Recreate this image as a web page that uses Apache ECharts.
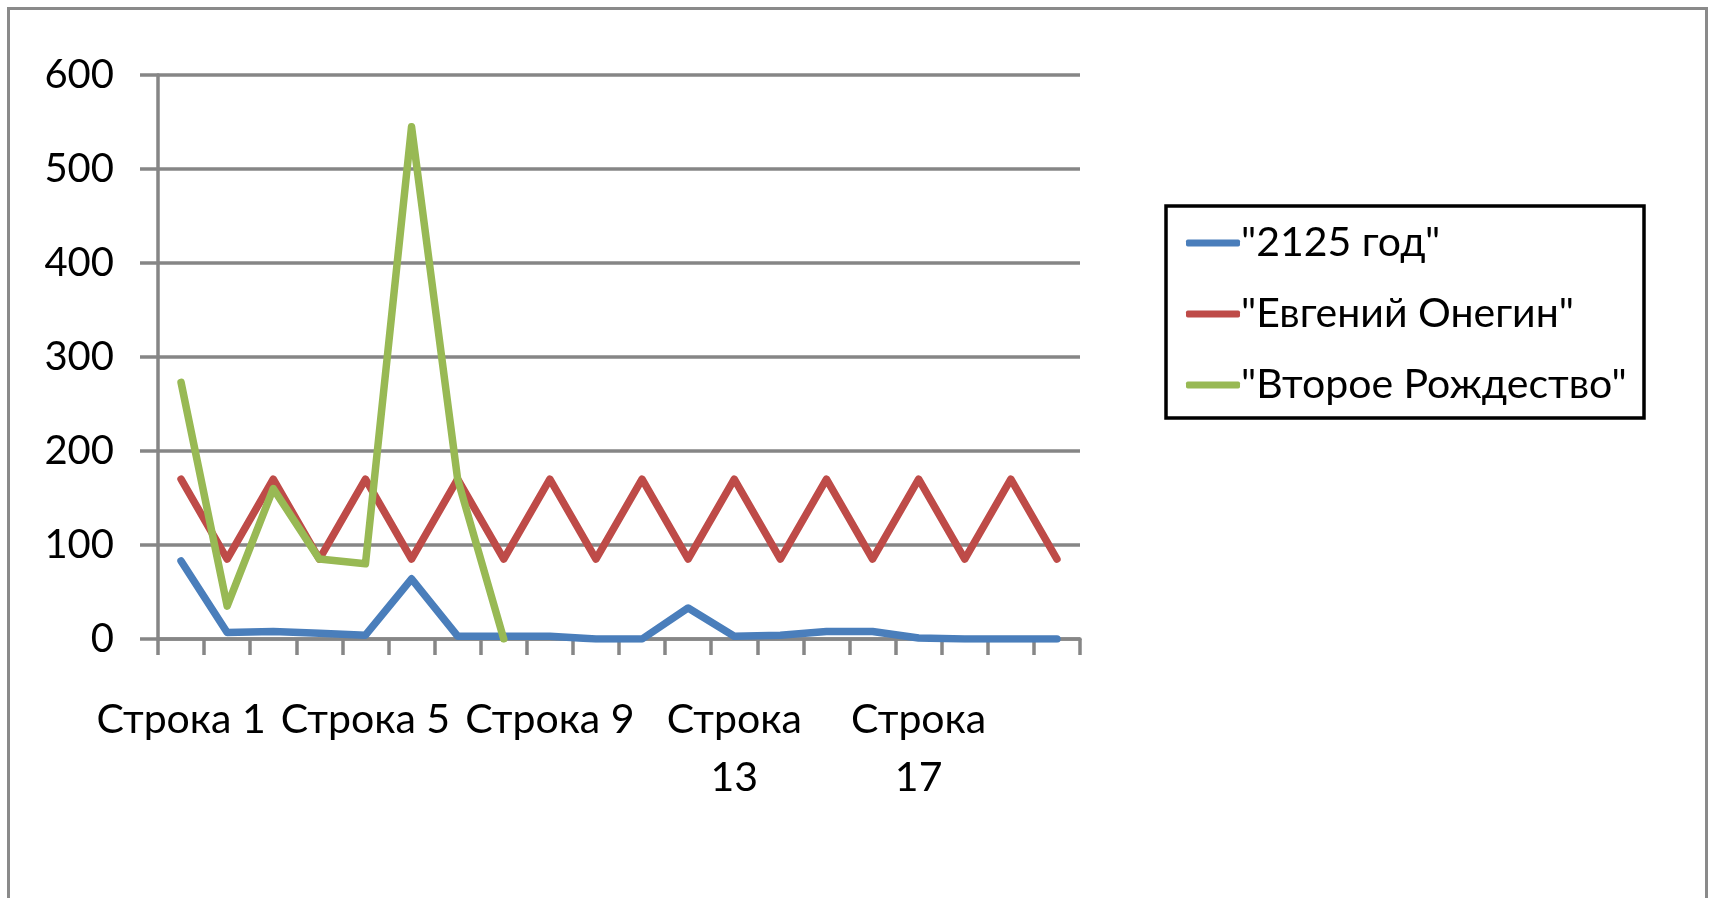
<!DOCTYPE html>
<html>
<head>
<meta charset="utf-8">
<script src="https://cdn.jsdelivr.net/npm/echarts@6/dist/echarts.min.js"></script>
<style>
html,body{margin:0;padding:0;background:#fff;}
#c{width:1709px;height:898px;}
</style>
</head>
<body>
<div id="c"></div>
<script>
const categories = ['Строка 1','Строка 2','Строка 3','Строка 4','Строка 5','Строка 6','Строка 7','Строка 8','Строка 9','Строка 10',
  'Строка 11','Строка 12','Строка 13','Строка 14','Строка 15','Строка 16','Строка 17','Строка 18','Строка 19','Строка 20'];
const seriesNames = ['"2125 год"', '"Евгений Онегин"', '"Второе Рождество"'];
const god2125 = [83, 7, 8, 6, 4, 64, 3, 3, 3, 0, 0, 33, 3, 4, 8, 8, 1, 0, 0, 0];
const onegin = [170, 85, 170, 85, 170, 85, 170, 85, 170, 85, 170, 85, 170, 85, 170, 85, 170, 85, 170, 85];
const rozhdestvo = [273, 35, 160, 85, 80, 545, 170, 0, null, null, null, null, null, null, null, null, null, null, null, null];
const yTicks = {min: 0, max: 600, interval: 100};

const colors = ['#4A7EBB', '#BE4B48', '#98B954'];
const gray = '#868686';
const font = 'Lato, "Open Sans", sans-serif';

const chart = echarts.init(document.getElementById('c'), null, {renderer: 'canvas'});
chart.setOption({
  animation: false,
  color: colors,
  grid: {left: 158, right: 629, top: 75, bottom: 259, containLabel: false},
  graphic: [
    {type: 'rect', shape: {x: 8.5, y: 8.5, width: 1698, height: 900}, style: {fill: 'none', stroke: '#8a8a8a', lineWidth: 3}, silent: true},
    {type: 'rect', shape: {x: 1166, y: 206, width: 478, height: 212}, style: {fill: '#fff', stroke: '#000', lineWidth: 3.5}, silent: true, z: 0}
  ],
  legend: {
    orient: 'vertical',
    left: 1166, top: 206,
    padding: [15, 10, 10, 20],
    itemWidth: 54, itemHeight: 7,
    itemGap: 27,
    icon: 'roundRect',
    z: 10,
    textStyle: {fontFamily: font, fontSize: 41, color: '#000', lineHeight: 44, padding: [0, 0, 0, -4]},
    data: seriesNames
  },
  xAxis: {
    type: 'category',
    data: categories,
    boundaryGap: true,
    axisLine: {show: true, lineStyle: {color: gray, width: 3.5}},
    axisTick: {show: true, interval: 0, length: 16, lineStyle: {color: gray, width: 3.5}},
    axisLabel: {
      interval: 3,
      margin: 52,
      fontFamily: font, fontSize: 41, color: '#000', lineHeight: 58,
      formatter: function (v) { return v.length > 8 ? v.replace(' ', '\n') : v; }
    },
    splitLine: {show: false}
  },
  yAxis: {
    type: 'value',
    min: yTicks.min, max: yTicks.max, interval: yTicks.interval,
    axisLine: {show: true, lineStyle: {color: gray, width: 3.5}},
    axisTick: {show: true, length: 18, lineStyle: {color: gray, width: 3.5}},
    axisLabel: {margin: 44, fontFamily: font, fontSize: 40, color: '#000'},
    splitLine: {show: true, lineStyle: {color: gray, width: 3.5}}
  },
  series: [
    {name: seriesNames[0], type: 'line', data: god2125, symbol: 'none', lineStyle: {width: 7.5, color: colors[0], cap: 'round', join: 'round'}, itemStyle: {color: colors[0]}, z: 3},
    {name: seriesNames[1], type: 'line', data: onegin, symbol: 'none', lineStyle: {width: 7.5, color: colors[1], cap: 'round', join: 'round'}, itemStyle: {color: colors[1]}, z: 4},
    {name: seriesNames[2], type: 'line', data: rozhdestvo, symbol: 'none', lineStyle: {width: 7.5, color: colors[2], cap: 'round', join: 'round'}, itemStyle: {color: colors[2]}, z: 5}
  ]
});
</script>
</body>
</html>
